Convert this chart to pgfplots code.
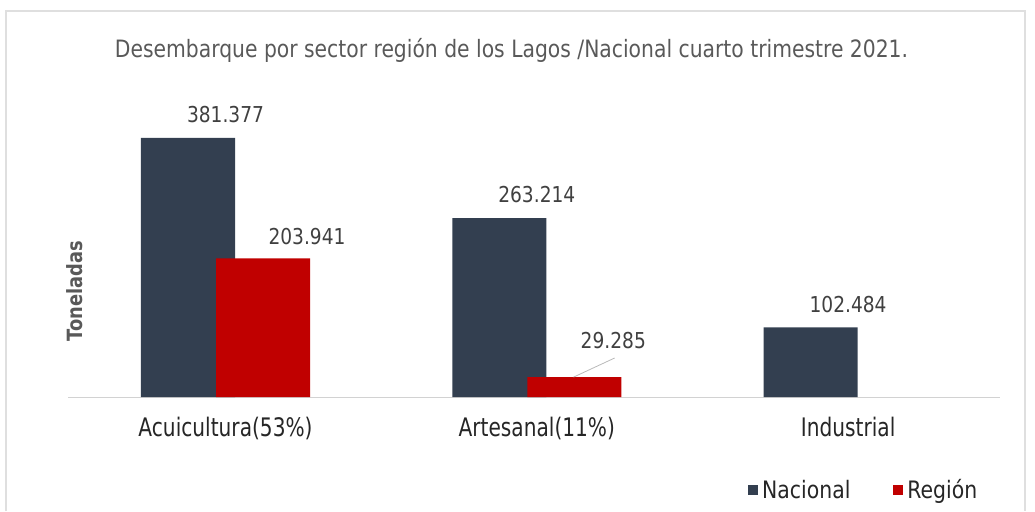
\documentclass[border=0pt]{standalone}
\usepackage{pgfplots}
\pgfplotsset{compat=1.18}
\usepackage{pgfplotstable}
\usepackage{fontspec}
\setmainfont{DejaVu Sans}[FakeStretch=0.85]
\newfontfamily\catfont{DejaVu Sans}[FakeStretch=0.79]
\definecolor{nac}{HTML}{333F50}
\definecolor{reg}{HTML}{C00000}
\definecolor{titc}{HTML}{595959}
\definecolor{labc}{HTML}{404040}

\pgfplotstableread{
x y
0 381377
1 263214
2 102484
}\nacional
\pgfplotstableread{
x y lx dy
0 203941 0.2618 13.5
1 29285 1.2457 29
}\region

\begin{document}
\begin{tikzpicture}[x=1pt,y=1pt]
\path (0,0) rectangle (1035,511);
\draw[gray!25, line width=1.5pt] (6,0) -- (6,500) -- (1025,500) -- (1025,0);
\node[text=titc, font=\fontsize{23.9}{28}\selectfont, anchor=base, inner sep=0pt] at (511.5,453) {Desembarque por sector región de los Lagos /Nacional cuarto trimestre 2021.};
\node[text=titc, font=\bfseries\fontsize{21}{25}\selectfont, rotate=90] at (75,220) {Toneladas};
\begin{axis}[
  at={(68pt,114pt)}, anchor=south west,
  scale only axis, width=932pt, height=297pt,
  xmin=-0.506, xmax=2.488, ymin=0, ymax=437330,
  axis x line*=bottom, axis y line=none,
  x axis line style={draw=gray!35, line width=1pt, -},
  ytick=\empty,
  xtick={0,1,2}, xticklabels={Acuicultura(53\%),Artesanal(11\%),Industrial},
  major tick length=0pt,
  x tick label style={font=\catfont\fontsize{25.5}{30}\selectfont, text=black!85, anchor=base, inner sep=0pt, yshift=-39pt},
  bar width=0.302, 
  /pgf/number format/assume math mode=true,
  legend style={at={(0.7296,-0.313)}, anchor=west, draw=none, fill=none, inner sep=0pt,
    legend columns=2, font=\fontsize{24}{28}\selectfont, text=black!85,
    nodes={inner xsep=2pt},
    /tikz/every odd column/.append style={column sep=2pt},
    /tikz/every even column/.append style={column sep=41pt}},
  legend image code/.code={\fill[#1] (0pt,-5pt) rectangle (10pt,5pt);},
]
\addplot[ybar, bar shift=-0.1205, fill=nac, draw=none,
  nodes near coords={\pgfmathprintnumber[fixed, 1000 sep={.}]{\pgfplotspointmeta}},
  every node near coord/.append style={anchor=base, inner sep=0pt, yshift=15.3pt, text=labc, font=\fontsize{21.9}{26}\selectfont}]
  table[x=x,y=y]{\nacional};
\addlegendentry{Nacional}
\addplot[ybar, bar shift=0.1205, fill=reg, draw=none]
  table[x=x,y=y]{\region};
\addlegendentry{Región}
\addplot[draw=none, mark=none, forget plot, point meta=explicit,
  visualization depends on={\thisrow{dy} \as \dy},
  nodes near coords={\pgfmathprintnumber[fixed, 1000 sep={.}]{\pgfplotspointmeta}},
  every node near coord/.append style={anchor=base, inner sep=0pt, yshift=\dy pt, text=labc, font=\fontsize{21.9}{26}\selectfont}]
  table[x=lx,y=y,meta=y]{\region};
\draw[gray!55, line width=0.8pt] (axis cs:1.118,29285) -- (axis cs:1.25,57400);
\end{axis}
\end{tikzpicture}
\end{document}
